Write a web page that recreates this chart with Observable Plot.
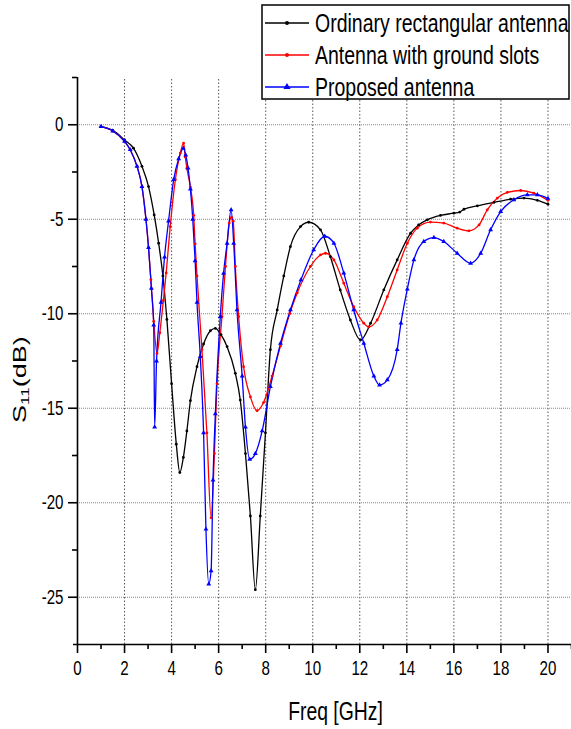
<!DOCTYPE html>
<html><head><meta charset="utf-8">
<script src="https://cdn.jsdelivr.net/npm/d3@7"></script>
<script src="https://cdn.jsdelivr.net/npm/@observablehq/plot@0.6"></script>
<style>body{margin:0;background:#fff;} #chart{width:571px;height:729px;}</style>
</head><body><div id="chart"></div>
<script>
// ---- data ----
const seriesNames = ["Ordinary rectangular antenna", "Antenna with ground slots", "Proposed antenna"];
const seriesColors = ["#000000", "#ff0000", "#0000ff"];

const freqOrd = [1.0,1.5,2.0,2.38,2.74,3.02,3.26,3.45,3.63,3.8,4.0,4.2,4.35,4.5,4.65,4.8,5.08,5.36,5.65,5.86,6.1,6.36,6.71,6.92,7.14,7.35,7.56,7.77,7.99,8.2,8.49,8.77,9.05,9.48,9.83,10.33,10.75,11.17,11.6,12.03,12.46,13.02,13.59,14.16,14.5,14.87,15.43,16.0,16.25,16.43,17.0,17.7,18.41,18.98,19.55,20.0];
const s11Ord  = [-0.1,-0.3,-0.8,-1.24,-2.2,-3.27,-4.77,-6.27,-8.0,-10.3,-13.7,-16.9,-18.4,-17.6,-16.2,-14.6,-12.8,-11.6,-10.9,-10.77,-11.1,-11.74,-13.15,-14.57,-17.4,-20.7,-24.6,-20.7,-16.3,-11.9,-9.8,-8.0,-6.45,-5.39,-5.16,-5.56,-6.98,-8.74,-10.33,-11.39,-10.5,-8.74,-7.15,-5.74,-5.3,-5.03,-4.8,-4.68,-4.62,-4.47,-4.29,-4.11,-3.94,-3.88,-4.0,-4.2];

const freqSlot = [1.0,1.5,2.0,2.24,2.53,2.74,2.91,3.02,3.12,3.24,3.38,3.5,3.65,3.77,3.94,4.16,4.37,4.51,4.58,4.65,4.8,4.94,5.0,5.08,5.29,5.5,5.68,5.82,5.93,6.14,6.29,6.45,6.55,6.62,6.71,6.85,7.06,7.35,7.63,7.91,8.27,8.63,9.02,9.34,9.9,10.33,10.54,10.9,11.32,11.74,12.17,12.38,12.74,13.17,13.59,14.02,14.44,15.0,15.57,16.14,16.64,17.07,17.42,17.85,18.27,18.84,19.4,20.0];
const s11Slot  = [-0.1,-0.33,-0.88,-1.32,-2.2,-3.27,-5.0,-6.5,-8.2,-10.4,-12.1,-11.0,-9.3,-7.84,-5.39,-2.91,-1.5,-0.97,-1.7,-2.3,-3.3,-4.8,-6.3,-8.0,-11.9,-16.3,-20.8,-17.4,-13.7,-10.15,-7.5,-5.2,-4.9,-5.1,-7.5,-10.15,-12.8,-14.4,-15.13,-14.7,-13.3,-11.7,-10.0,-8.9,-7.5,-6.89,-6.8,-7.15,-8.38,-9.62,-10.5,-10.7,-10.33,-9.1,-7.68,-6.27,-5.47,-5.15,-5.2,-5.47,-5.61,-5.3,-4.5,-3.88,-3.58,-3.48,-3.62,-4.0];

const freqProp = [1.0,1.5,2.0,2.24,2.53,2.74,2.91,3.02,3.14,3.24,3.28,3.36,3.55,3.7,3.87,4.09,4.3,4.5,4.6,4.7,4.8,4.9,5.0,5.08,5.22,5.36,5.46,5.58,5.68,5.76,5.86,6.07,6.21,6.36,6.53,6.64,6.78,7.0,7.14,7.32,7.56,7.85,8.2,8.63,9.05,9.5,10.04,10.51,10.9,11.32,11.74,12.17,12.6,12.84,13.17,13.59,13.75,14.02,14.3,14.72,15.15,15.57,16.14,16.71,17.14,17.56,17.99,18.55,19.12,19.55,20.0];
const s11Prop  = [-0.1,-0.33,-0.88,-1.32,-2.2,-3.27,-5.0,-6.5,-8.65,-10.6,-16.0,-12.5,-9.4,-7.0,-5.1,-2.9,-1.8,-1.25,-1.6,-2.3,-3.4,-5.0,-7.2,-9.4,-12.27,-16.3,-21.4,-24.3,-23.6,-18.8,-15.3,-10.15,-7.86,-6.27,-4.5,-6.27,-9.8,-13.3,-16.0,-17.7,-17.4,-16.2,-13.86,-11.56,-9.8,-8.2,-6.62,-5.9,-6.27,-7.85,-9.8,-11.56,-13.3,-13.77,-13.5,-11.9,-10.5,-8.7,-7.15,-6.18,-5.97,-6.18,-6.8,-7.33,-6.8,-5.56,-4.59,-3.97,-3.71,-3.71,-3.9];

const xMajorTicks = [0,2,4,6,8,10,12,14,16,18,20];
const xMinorTicks = [1,3,5,7,9,11,13,15,17,19,21];
const yMajorTicks = [0,-5,-10,-15,-20,-25];
const yMinorTicks = [2.5,-2.5,-7.5,-12.5,-17.5,-22.5];
const xGridVals = [2,4,6,8,10,12,14,16,18,20];
const yGridVals = [0,-5,-10,-15,-20,-25];
const xLabel = "Freq [GHz]";

// ---- build ----
const toRows = (f, s) => f.map((x, i) => ({f: x, s: s[i]}));
const ord = toRows(freqOrd, s11Ord), slot = toRows(freqSlot, s11Slot), prop = toRows(freqProp, s11Prop);
const plainFmt = d => String(d);

const plot = Plot.plot({
  width: 571, height: 729,
  marginLeft: 77, marginRight: 0, marginTop: 77, marginBottom: 85,
  x: {domain: [0, 21]},
  y: {domain: [-27.5, 2.5]},
  style: {fontFamily: "'Liberation Sans', Arial, sans-serif", fontSize: "21px", background: "#fff", color: "#000"},
  marks: [
    Plot.ruleX(xGridVals, {y1: -27.5, y2: 2.5, stroke: "#555", strokeWidth: 1, strokeDasharray: "1.5,2"}),
    Plot.ruleY(yGridVals, {x1: 0, x2: 21, stroke: "#4caf50", strokeWidth: 1.2, strokeDasharray: "1,1"}),
    Plot.line(ord,  {x: "f", y: "s", stroke: seriesColors[0], strokeWidth: 1.3, curve: "monotone-x"}),
    Plot.line(slot, {x: "f", y: "s", stroke: seriesColors[1], strokeWidth: 1.3, curve: "monotone-x"}),
    Plot.line(prop, {x: "f", y: "s", stroke: seriesColors[2], strokeWidth: 1.3, curve: "monotone-x"}),
    Plot.dot(ord,  {x: "f", y: "s", r: 1.4, fill: seriesColors[0], stroke: null}),
    Plot.dot(slot, {x: "f", y: "s", r: 1.4, fill: seriesColors[1], stroke: null}),
    Plot.dot(prop, {x: "f", y: "s", r: 1.8, symbol: "triangle", fill: seriesColors[2], stroke: null}),
    Plot.ruleX([0], {y1: -27.5, y2: 2.5, stroke: "#000", strokeWidth: 1.6}),
    Plot.ruleY([-27.5], {x1: -0.17, x2: 21, stroke: "#000", strokeWidth: 1.6}),
    Plot.axisX(xMajorTicks, {tickSize: 9, tickPadding: 7, label: null, strokeWidth: 1.6, tickFormat: plainFmt}),
    Plot.axisX(xMinorTicks, {tickSize: 5, tickFormat: () => "", label: null, strokeWidth: 1.6}),
    Plot.axisY(yMajorTicks, {tickSize: 9, tickPadding: 5, label: null, strokeWidth: 1.6, tickFormat: plainFmt}),
    Plot.axisY(yMinorTicks, {tickSize: 5, tickFormat: () => "", label: null, strokeWidth: 1.6})
  ]
});

// narrow the tick labels like the reference
plot.querySelectorAll('g[aria-label$="tick label"] text').forEach(t => {
  let tr = t.getAttribute("transform");
  if (!tr) {
    const x = t.getAttribute("x") || 0, y = t.getAttribute("y") || 0;
    t.removeAttribute("x"); t.removeAttribute("y");
    tr = `translate(${x},${y})`;
  }
  t.setAttribute("transform", tr + " scale(0.72,1)");
});

const svg = d3.select(plot);
// x label
svg.append("text").attr("transform", "translate(335.5,720) scale(0.76,1)")
  .attr("text-anchor", "middle").attr("font-size", 25.5).attr("fill", "#000").text(xLabel);
// y label S11(dB)
const yl = svg.append("text").attr("transform", "translate(26,423) rotate(-90) scale(1,0.68)")
  .attr("text-anchor", "start").attr("font-size", 27).attr("fill", "#000");
yl.append("tspan").text("S");
yl.append("tspan").attr("font-size", 17).attr("dy", 5).text("11");
yl.append("tspan").attr("dy", -5).text("(dB)");

// legend
const lg = svg.append("g").attr("text-anchor", "start");
lg.append("rect").attr("x", 262).attr("y", 5).attr("width", 307).attr("height", 94)
  .attr("fill", "#fff").attr("stroke", "#000").attr("stroke-width", 1.5);
seriesNames.forEach((name, i) => {
  const cy = 23 + i * 32;
  lg.append("line").attr("x1", 265).attr("x2", 309).attr("y1", cy).attr("y2", cy)
    .attr("stroke", seriesColors[i]).attr("stroke-width", 1.3);
  if (i < 2) lg.append("circle").attr("cx", 287).attr("cy", cy).attr("r", 2).attr("fill", seriesColors[i]);
  else lg.append("path").attr("d", d3.symbol(d3.symbolTriangle, 22)()).attr("transform", `translate(287,${cy})`).attr("fill", seriesColors[i]);
  lg.append("text").attr("text-anchor", "start").attr("transform", `translate(315,${cy + 9}) scale(0.78,1)`)
    .attr("font-size", 25).attr("fill", "#000").text(name);
});

document.getElementById("chart").appendChild(plot);
</script>
</body></html>
